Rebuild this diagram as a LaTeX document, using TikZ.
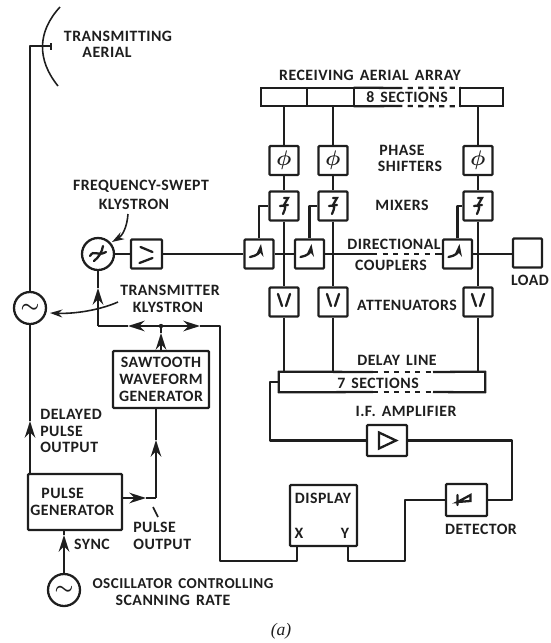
\documentclass[tikz,border=0pt]{standalone}
\usepackage{fontspec}
\usepackage{tikz}
\usetikzlibrary{arrows.meta,positioning,calc}
\setmainfont[LetterSpace=3,WordSpace=1.5]{Carlito}
\newfontfamily\captionfont{Liberation Serif}
\definecolor{inkDark}{RGB}{30,30,30}
\tikzset{
  wire/.style={draw=inkDark,line width=1.3pt,line join=round},
  thinwire/.style={draw=inkDark,line width=0.9pt},
  tipped/.style={-{Stealth[length=9.5pt,width=6pt]}},
  smalltip/.style={-{Stealth[length=7pt,width=4.5pt]}},
  sym/.style={draw=inkDark,line width=1.3pt,line cap=round},
  blockbox/.style={draw=inkDark,line width=1.3pt,rounded corners=0.5pt,inner sep=0pt,
    minimum width=0.58cm,minimum height=0.58cm,text=inkDark},
  osc/.style={circle,draw=inkDark,line width=1.3pt,inner sep=0pt,minimum size=0.64cm,text=inkDark},
  lbl/.style={inner sep=0pt,text=inkDark,font=\fontsize{9}{9.6}\selectfont\bfseries},
  bigsym/.style={font=\fontsize{12.5}{12.5}\selectfont\boldmath}
}
\begin{document}
\begin{tikzpicture}[x=0.02cm,y=-0.02cm]
  \useasboundingbox (0,0) rectangle (551,643);

  % left column
  \node[osc,bigsym] (oscTx) at (30,308) {$\sim$};
  \node[osc,bigsym] (oscRate) at (64,590) {$\sim$};
  \node[osc] (klystron) at (98,254) {};
  \node[blockbox,minimum width=0.62cm] (ampRf) at (146.5,254) {};
  \node[blockbox,lbl,minimum width=1.92cm,minimum height=1.14cm,align=center] (saw) at (161,379.5)
    {SAWTOOTH\\WAVEFORM\\GENERATOR};
  \node[blockbox,lbl,minimum width=1.88cm,minimum height=1.12cm,align=center] (pulseGen) at (75,502)
    {PULSE\hspace*{14pt}\\GENERATOR\hspace*{3pt}};

  % receiving chain
  \node[inner sep=0pt,minimum width=0.92cm,minimum height=0.36cm,draw=inkDark,line width=1.3pt] (arrA) at (284,97) {};
  \node[inner sep=0pt,minimum width=0.94cm,minimum height=0.36cm,draw=inkDark,line width=1.3pt] (arrB) at (330.5,97) {};
  \node[inner sep=0pt,minimum width=2.12cm,minimum height=0.36cm,lbl] (arrC) at (407,97) {8 SECTIONS};
  \node[inner sep=0pt,minimum width=0.86cm,minimum height=0.36cm,draw=inkDark,line width=1.3pt] (arrD) at (481.5,97) {};

  \foreach \n/\x in {A/284,B/333,C/478}{
    \node[blockbox,bigsym] (phase\n) at (\x,160.5) {$\phi$};
    \node[blockbox] (mixer\n) at (\x,206) {};
    \node[blockbox] (atten\n) at (\x,302) {};
  }
  \node[blockbox] (couplerA) at (259,254) {};
  \node[blockbox] (couplerB) at (309.5,254) {};
  \node[blockbox] (couplerC) at (457.5,254) {};
  \node[blockbox] (load) at (527.5,253) {};

  \node[inner sep=0pt,minimum width=4.12cm,minimum height=0.4cm] (delay) at (382,382) {};
  \node[blockbox,minimum width=0.8cm,minimum height=0.62cm] (ifAmp) at (387,440.5) {};
  \node[blockbox,minimum width=0.82cm,minimum height=0.64cm] (detector) at (466.5,500) {};
  \node[blockbox,minimum width=1.34cm,minimum height=1.22cm] (display) at (323.5,515.5) {};

  % labels
  \foreach \name/\x/\y/\txt in {
    lblTxA/118/36/TRANSMITTING, lblTxB/107/52/AERIAL,
    lblFreqA/141/186/FREQUENCY-SWEPT, lblFreqB/134/204/KLYSTRON,
    lblKlyA/170/290/TRANSMITTER, lblKlyB/168/307/KLYSTRON,
    lblRecv/370/75/RECEIVING AERIAL ARRAY,
    lblPhaseA/402/150/PHASE, lblPhaseB/410/166/SHIFTERS, lblMix/402/205/MIXERS,
    lblDirA/394/244/DIRECTIONAL, lblDirB/391/265/COUPLERS, lblLoad/530/280/LOAD,
    lblAtt/407/305/ATTENUATORS, lblDelay/397/360/DELAY LINE, lbl7/378/383/7 SECTIONS,
    lblIf/406/411/I.F. AMPLIFIER, lblDet/481/529/DETECTOR,
    lblDisp/323/498/DISPLAY, lblX/299/533/X, lblY/345/533/Y,
    lblSync/92/544/SYNC, lblRateB/173/600/SCANNING RATE}{
    \node[lbl] (\name) at (\x,\y) {\txt};
  }
  \node[lbl,font=\fontsize{8.6}{9.6}\selectfont\bfseries] (lblRateA) at (183,584) {OSCILLATOR CONTROLLING};
  \node[lbl,align=left,anchor=west] (lblDelayed) at (40,431) {DELAYED\\PULSE\\OUTPUT};
  \node[lbl,align=left,anchor=west] (lblPulse) at (133,536) {PULSE\\OUTPUT};
  \node[inner sep=0pt,text=inkDark,font=\captionfont\itshape\fontsize{10}{10}\selectfont] (lblCap) at (281,631) {(a)};

  % aerial
  \coordinate (feed) at (30,46);
  \coordinate (stemEnd) at (51,46);
  \draw[wire] (oscTx.north) -- (feed) -- (stemEnd);
  \draw[wire] (51,43) -- (51,50);
  \draw[thinwire] (60,7) .. controls (37,32) and (37,60) .. (58,86);

  % rf path
  \draw[wire] (klystron.east) -- (ampRf.west);
  \draw[wire] (ampRf.east) -- (couplerA.west);
  \draw[wire] (couplerA.east) -- (couplerB.west);
  \coordinate (dashA) at (372,254);
  \coordinate (dashB) at (437,254);
  \draw[wire] (couplerB.east) -- (dashA);
  \draw[wire,dashed] (dashA) -- (dashB);
  \draw[wire] (dashB) -- (couplerC.west);
  \draw[wire] (couplerC.east) -- (load.west |- couplerC.east);

  % array to delay line
  \foreach \n in {A,B,C}{
    \draw[wire] (phase\n.south) -- (mixer\n.north);
    \draw[wire] (mixer\n.south) -- (atten\n.north);
    \draw[wire] (coupler\n.north) |- (mixer\n.west);
    \draw[wire] (atten\n.south) -- (atten\n.south |- delay.north);
  }
  \draw[wire] (phaseA.north) -- (phaseA.north |- arrA.south);
  \draw[wire] (phaseB.north) -- (phaseB.north |- arrB.south);
  \draw[wire] (phaseC.north) -- (phaseC.north |- arrD.south);
  \coordinate (arrTopEnd) at (397,88);
  \coordinate (arrBotEnd) at (397,106);
  \draw[wire] (arrC.north west) -- (arrTopEnd) (arrC.south west) -- (arrBotEnd);
  \draw[wire,dashed] (arrTopEnd) -- (arrC.north east) (arrBotEnd) -- (arrC.south east);

  % delay line outline
  \coordinate (dlTopA) at (373,372);
  \coordinate (dlTopB) at (433,372);
  \coordinate (dlBotA) at (373,392);
  \coordinate (dlBotB) at (433,392);
  \draw[wire] (dlTopA) -- (delay.north west) -- (delay.south west) -- (dlBotA);
  \draw[wire] (dlTopB) -- (delay.north east) -- (delay.south east) -- (dlBotB);
  \draw[wire,dashed] (dlTopA) -- (dlTopB) (dlBotA) -- (dlBotB);

  % i.f. and display
  \draw[wire] (delay.west) -- ++(-9,0) |- (ifAmp.west);
  \draw[wire] (detector.east) -- ++(24,0) |- (ifAmp.east);
  \coordinate (dispX) at ($(display.south west)+(8,0)$);
  \coordinate (dispY) at ($(display.south east)+(-10,0)$);
  \draw[wire] (detector.west) -- ++(-40,0) |- (dispY |- 0,561) -- (dispY);

  % sweep bus
  \coordinate (busJoin) at (161,326);
  \coordinate (busLeft) at (klystron.south |- busJoin);
  \coordinate (busRight) at (220,326);
  \coordinate (tipBusL) at (128,326);
  \coordinate (tipBusR) at (200,326);
  \coordinate (tipKly) at (98,288);
  \coordinate (tipSaw) at (161,333);
  \draw[wire,tipped] (busJoin) -- (tipBusL);
  \draw[wire,tipped] (busJoin) -- (tipBusR);
  \draw[wire,tipped] (busLeft) -- (tipKly);
  \draw[wire] (tipBusL) -- (busLeft);
  \draw[wire] (tipKly) -- (klystron.south);
  \draw[wire,tipped] (saw.north) -- (tipSaw);
  \draw[wire] (tipSaw) -- (busJoin);
  \fill[inkDark] (busJoin) circle (2.2);
  \draw[wire] (tipBusR) -- (busRight) -- (busRight |- 0,561) -| (dispX);

  % pulse generator
  \coordinate (tipDelayed) at (30,421);
  \coordinate (pulseCorner) at (156,498);
  \coordinate (tipPulseR) at (146,498);
  \coordinate (tipPulseU) at (156,440);
  \coordinate (tipSync) at (64,535);
  \draw[wire,tipped] (oscTx.south |- pulseGen.north) -- (tipDelayed);
  \draw[wire] (tipDelayed) -- (oscTx.south);
  \draw[wire,tipped] (pulseCorner -| pulseGen.east) -- (tipPulseR);
  \draw[wire] (tipPulseR) -- (pulseCorner);
  \draw[wire,tipped] (pulseCorner) -- (tipPulseU);
  \draw[wire] (tipPulseU) -- (tipPulseU |- saw.south);
  \draw[wire,tipped] (oscRate.north) -- (tipSync);
  \draw[wire] (tipSync) -- (tipSync |- pulseGen.south);
  \draw[thinwire] (153,507) -- (158,517);

  % leaders
  \draw[thinwire,smalltip] (128,214) .. controls (127,228) and (122,236) .. (112,242);
  \draw[thinwire,smalltip] (118,302) .. controls (100,310) and (75,314) .. (50,313);

  % box symbols
  \foreach \n in {A,B,C}{
    \draw[sym,shift={(atten\n)}] (-6,-8) -- (-2,4) (6,-8) -- (2,4);
    \draw[sym,shift={(mixer\n)}] (0,-8) -- (4,-8) -- (0,-1) (-4,0) -- (4,-1)
      (0,-1) .. controls (3,3) and (-1,5) .. (-1,8);
    \draw[sym,smalltip,shift={(coupler\n)}] (-9,3) .. controls (-2,2) and (1,-2) .. (2,-10);
  }
  \draw[sym,shift={(ampRf)}] (-6,-7) -- (6,-2) (6,4) -- (-7,9);
  \draw[sym,shift={(ifAmp)}] (-8,-8) -- (9,0) -- (-8,8) -- cycle;
  \draw[sym,shift={(detector)}] (-9,-5) -- (-9,5) (-9,2) -- (4,-5) -- (4,1) -- cycle;
  \draw[sym,shift={(klystron)}] (-8,2) .. controls (-4,-5) and (-1,3) .. (8,-2);
  \draw[sym,shift={(klystron)}] (-4,7) .. controls (1,3) and (4,-2) .. (5,-8);
\end{tikzpicture}
\end{document}
